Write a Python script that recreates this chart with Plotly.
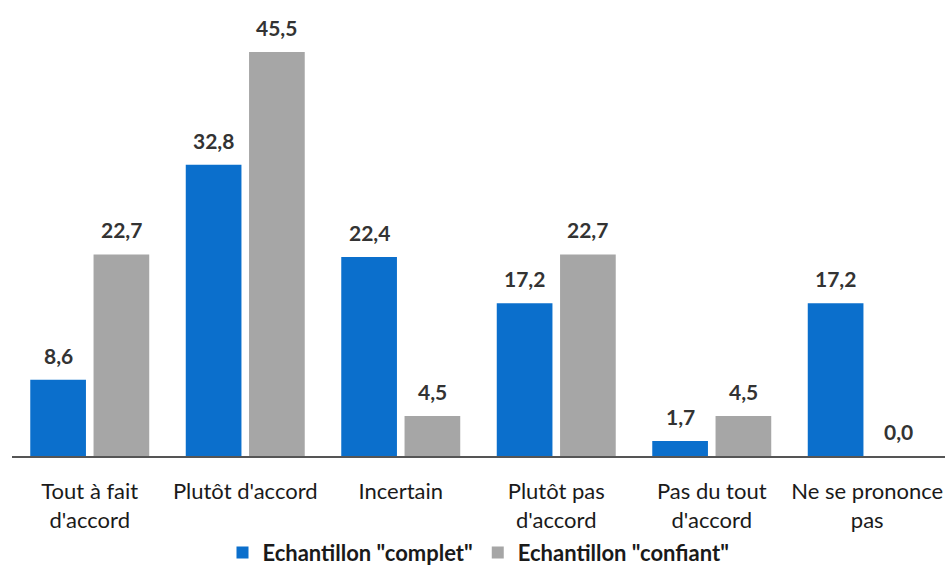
import plotly.graph_objects as go

categories = ["Tout à fait<br>d'accord", "Plutôt d'accord", "Incertain",
              "Plutôt pas<br>d'accord", "Pas du tout<br>d'accord", "Ne se prononce<br>pas"]
complet = [8.6, 32.8, 22.4, 17.2, 1.7, 17.2]
confiant = [22.7, 45.5, 4.5, 22.7, 4.5, 0.0]
series_names = ['Echantillon "complet"', 'Echantillon "confiant"']

def fmt(v):
    return f"{v:.1f}".replace(".", ",")

BLUE = "#0b6fcc"
GRAY = "#a6a6a6"
FONT = "Lato"
BARGAP = 0.186

fig = go.Figure()
fig.add_trace(go.Bar(x=categories, y=complet, name=series_names[0],
                     marker=dict(color=BLUE, line=dict(width=0))))
fig.add_trace(go.Bar(x=categories, y=confiant, name=series_names[1],
                     marker=dict(color=GRAY, line=dict(width=0))))

# value labels above each bar, centred on the bar's slot within its group
slot = (1 - BARGAP) / 4
for k, series in enumerate([complet, confiant]):
    sign = -1 if k == 0 else 1
    for i, v in enumerate(series):
        fig.add_annotation(x=i + sign * slot, y=v, xref="x", yref="y",
                           text=fmt(v), showarrow=False, yanchor="bottom",
                           yshift=10,
                           font=dict(family=FONT, size=21, color="#333333", weight="bold"))

fig.update_layout(
    width=945, height=582,
    margin=dict(l=12, r=0, t=20, b=126),
    paper_bgcolor="white", plot_bgcolor="white",
    barmode="group", bargap=BARGAP, bargroupgap=0.12,
    font=dict(family=FONT, size=22, color="#1a1a1a"),
    showlegend=True,
    legend=dict(orientation="h", x=0.5, xanchor="center", y=-0.222, yanchor="middle",
                font=dict(family=FONT, size=22, color="#1a1a1a", weight="bold"),
                itemwidth=30, tracegroupgap=0),
)
fig.update_xaxes(showline=True, linecolor="#555555", linewidth=2, ticks="",
                 ticklabelstandoff=15, tickfont=dict(family=FONT, size=22, color="#1a1a1a"),
                 showgrid=False)
fig.update_yaxes(range=[0, 49.1], visible=False, showgrid=False, zeroline=False)

fig.write_html("out.html")
